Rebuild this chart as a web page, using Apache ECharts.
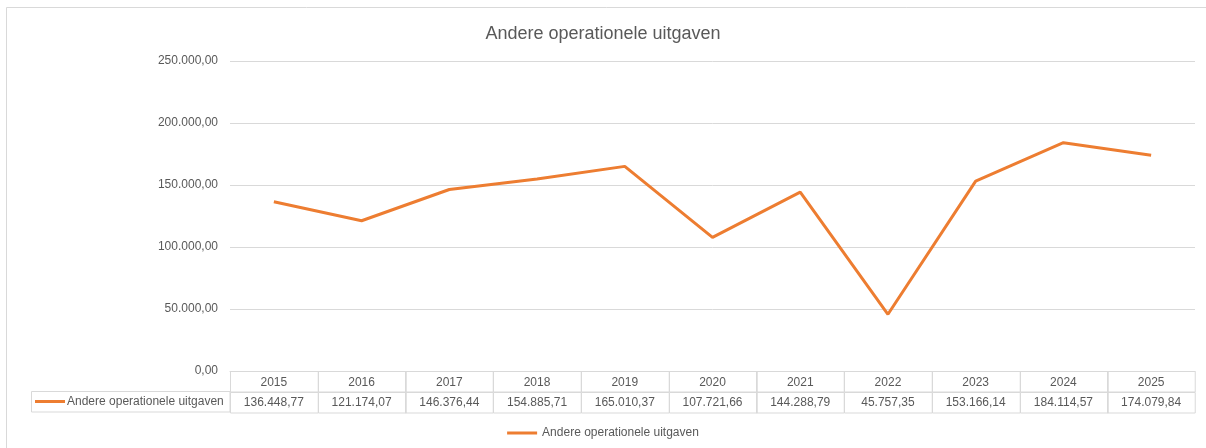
<!DOCTYPE html>
<html>
<head>
<meta charset="utf-8">
<script src="https://cdn.jsdelivr.net/npm/echarts@6/dist/echarts.min.js"></script>
<style>html,body{margin:0;padding:0;background:#fff}#c{width:1206px;height:448px}</style>
</head>
<body>
<div id="c"></div>
<script>
const years = ['2015','2016','2017','2018','2019','2020','2021','2022','2023','2024','2025'];
const values = [136448.77,121174.07,146376.44,154885.71,165010.37,107721.66,144288.79,45757.35,153166.14,184114.57,174079.84];
const seriesName = 'Andere operationele uitgaven';
const chartTitle = 'Andere operationele uitgaven';

const FONT = 'Liberation Sans';
const TXT = '#595959';
const GRID = '#d9d9d9';
const ORANGE = '#ED7D31';

function fmt(v){
  const s = v.toFixed(2).split('.');
  return s[0].replace(/\B(?=(\d{3})+(?!\d))/g, '.') + ',' + s[1];
}

const chart = echarts.init(document.getElementById('c'), null, {renderer:'canvas'});
chart.setOption({
  animation:false,
  backgroundColor:'#fff',
  title:{text:chartTitle,left:'center',top:20,textStyle:{fontFamily:FONT,fontSize:18,fontWeight:'normal',color:TXT}},
  legend:{bottom:4,left:'center',data:[seriesName],icon:'rect',itemWidth:30,itemHeight:3,itemGap:5,
    textStyle:{fontFamily:FONT,fontSize:12,color:TXT}},
  grid:[
    {left:230,right:11,top:61,bottom:77},
    {left:230,right:11,top:371,height:41}
  ],
  xAxis:[
    {type:'category',data:years,gridIndex:0,boundaryGap:true,axisLabel:{show:false},axisTick:{show:false},
      axisLine:{show:true,lineStyle:{color:GRID}}},
    {type:'category',data:years,gridIndex:1,boundaryGap:true,show:false}
  ],
  yAxis:[
    {type:'value',gridIndex:0,min:0,max:250000,interval:50000,axisLine:{show:false},axisTick:{show:false},
      splitLine:{lineStyle:{color:GRID,width:1}},
      axisLabel:{formatter:fmt,fontFamily:FONT,fontSize:12,color:TXT,margin:12}},
    {type:'value',gridIndex:1,min:0,max:2,show:false}
  ],
  graphic:[
    {type:'rect',silent:true,z:-1,shape:{x:6.5,y:7.5,width:1400,height:1000},style:{fill:null,stroke:GRID,lineWidth:1}},
    {type:'rect',silent:true,shape:{x:31.5,y:391.5,width:198.5,height:20.5},style:{fill:null,stroke:GRID,lineWidth:1}},
    {type:'rect',silent:true,shape:{x:35,y:400,width:30,height:3},style:{fill:ORANGE}},
    {type:'text',silent:true,x:67,y:402,style:{text:seriesName,fontFamily:FONT,fontSize:12,fill:TXT,textVerticalAlign:'middle',textAlign:'left'}}
  ],
  series:[
    {name:seriesName,type:'line',xAxisIndex:0,yAxisIndex:0,data:values,showSymbol:false,symbol:'none',
      lineStyle:{color:ORANGE,width:3},itemStyle:{color:ORANGE},smooth:false},
    {name:'table',type:'custom',xAxisIndex:1,yAxisIndex:1,silent:true,
      data:values.map((v,i)=>[i,v]),
      renderItem:function(params,api){
        const i = api.value(0);
        const c = api.coord([i,0]);
        const w = api.size([1,0])[0];
        const top = api.coord([i,2])[1];
        const mid = api.coord([i,1])[1];
        const bot = c[1];
        const x0 = c[0]-w/2;
        return {type:'group',children:[
          {type:'rect',shape:{x:Math.round(x0)+0.5,y:Math.round(top)+0.5,width:w,height:mid-top},style:{fill:null,stroke:GRID,lineWidth:1}},
          {type:'rect',shape:{x:Math.round(x0)+0.5,y:Math.round(mid)+0.5,width:w,height:bot-mid},style:{fill:null,stroke:GRID,lineWidth:1}},
          {type:'text',x:c[0],y:(top+mid)/2+1,style:{text:years[i],fontFamily:FONT,fontSize:12,fill:TXT,textAlign:'center',textVerticalAlign:'middle'}},
          {type:'text',x:c[0],y:(mid+bot)/2+1,style:{text:fmt(api.value(1)),fontFamily:FONT,fontSize:12,fill:TXT,textAlign:'center',textVerticalAlign:'middle'}}
        ]};
      }
    }
  ]
});
</script>
</body>
</html>
